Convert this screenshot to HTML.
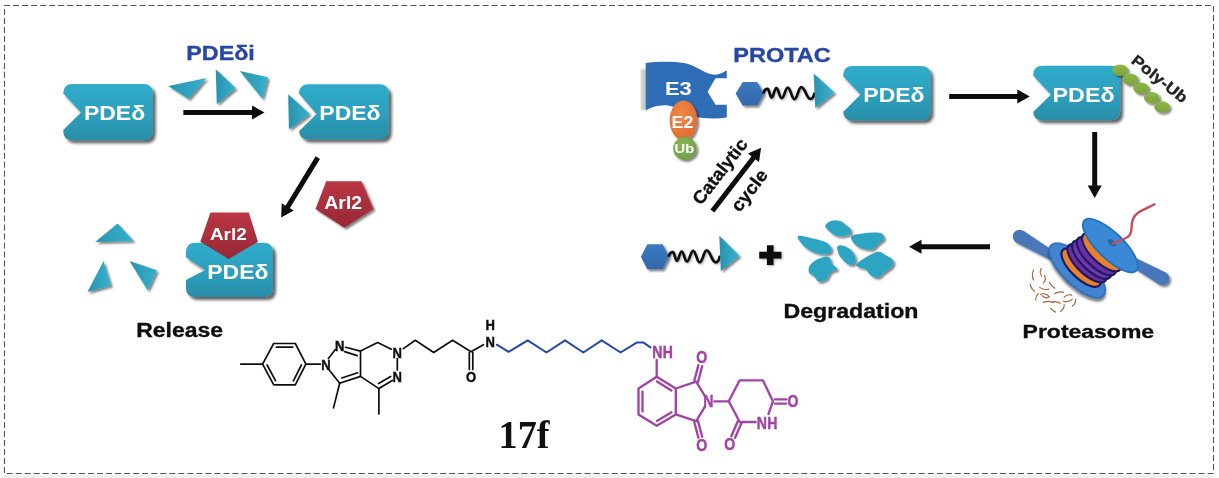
<!DOCTYPE html>
<html><head><meta charset="utf-8"><title>PDEδ PROTAC</title>
<style>html,body{margin:0;padding:0;background:#fff}body{width:1219px;height:478px;overflow:hidden;position:relative;font-family:"Liberation Sans",sans-serif}</style>
</head><body>
<svg width="1219" height="478" viewBox="0 0 1219 478" style="position:absolute;left:0;top:0">
<defs>
<linearGradient id="teal" x1="0" y1="0" x2="0" y2="1"><stop offset="0" stop-color="#30accb"/><stop offset="0.55" stop-color="#2d9fbd"/><stop offset="1" stop-color="#2a8da7"/></linearGradient>
<linearGradient id="tri" x1="0" y1="0" x2="1" y2="0"><stop offset="0" stop-color="#2a93ad"/><stop offset="1" stop-color="#36b2d0"/></linearGradient>
<linearGradient id="red" x1="0" y1="0" x2="0" y2="1"><stop offset="0" stop-color="#bb3644"/><stop offset="1" stop-color="#962835"/></linearGradient>
<linearGradient id="grn" x1="0" y1="0" x2="0" y2="1"><stop offset="0" stop-color="#8fb846"/><stop offset="1" stop-color="#7aa33a"/></linearGradient>
<radialGradient id="org" cx="0.4" cy="0.35" r="0.75"><stop offset="0" stop-color="#f08848"/><stop offset="1" stop-color="#dc6a30"/></radialGradient>
<radialGradient id="ubg" cx="0.4" cy="0.35" r="0.75"><stop offset="0" stop-color="#8bb75b"/><stop offset="1" stop-color="#6d9c40"/></radialGradient>
<linearGradient id="hex" x1="0" y1="0" x2="0" y2="1"><stop offset="0" stop-color="#3d78c0"/><stop offset="1" stop-color="#3468ab"/></linearGradient>
<filter id="sh" x="-20%" y="-20%" width="150%" height="150%"><feGaussianBlur in="SourceAlpha" stdDeviation="1.4"/><feOffset dx="3" dy="3"/><feComponentTransfer><feFuncA type="linear" slope="0.62"/></feComponentTransfer><feMerge><feMergeNode/><feMergeNode in="SourceGraphic"/></feMerge></filter>
<filter id="sh2" x="-20%" y="-20%" width="150%" height="150%"><feGaussianBlur in="SourceAlpha" stdDeviation="1.2"/><feOffset dx="1.6" dy="1.7"/><feComponentTransfer><feFuncA type="linear" slope="0.5"/></feComponentTransfer><feMerge><feMergeNode/><feMergeNode in="SourceGraphic"/></feMerge></filter>
<filter id="sh3" x="-10%" y="-40%" width="120%" height="200%"><feGaussianBlur in="SourceAlpha" stdDeviation="0.9"/><feOffset dx="1" dy="1.2"/><feComponentTransfer><feFuncA type="linear" slope="0.35"/></feComponentTransfer><feMerge><feMergeNode/><feMergeNode in="SourceGraphic"/></feMerge></filter>
<filter id="blur1"><feGaussianBlur stdDeviation="1.2"/></filter>
<filter id="soft"><feGaussianBlur stdDeviation="0.35"/></filter>
</defs>
<rect x="0" y="0" width="1219" height="478" fill="#fff"/>
<rect x="4" y="474.5" width="1209.5" height="3.5" fill="#f0f0f0"/>
<g stroke="#555" stroke-width="1.1" fill="none">
<line x1="4" y1="5.5" x2="1211.5" y2="5.5" stroke-dasharray="6 3.03"/>
<line x1="6.7" y1="473.5" x2="1214" y2="473.5" stroke-dasharray="6 3.03"/>
<line x1="4.5" y1="9" x2="4.5" y2="473" stroke-dasharray="6 2.98"/>
<line x1="1213.5" y1="6" x2="1213.5" y2="470" stroke-dasharray="6 2.98"/>
</g>
<g filter="url(#soft)">

<path d="M72.7,84.1 H143.3 Q152.8,84.1 152.8,93.6 V130.7 Q152.8,140.2 143.3,140.2 H72.7 Q63.2,140.2 63.2,130.7 V130 L81,112.4 L63.2,93.5 V93.6 Q63.2,84.1 72.7,84.1 Z" fill="url(#teal)" filter="url(#sh)"/>
<text x="83.9" y="120.4" font-family="Liberation Sans, sans-serif" font-size="20" font-weight="bold" fill="#fff" textLength="61.3" lengthAdjust="spacingAndGlyphs" >PDEδ</text>
<text x="186.3" y="59.5" font-family="Liberation Sans, sans-serif" font-size="20" font-weight="bold" fill="#2846a5" textLength="68.5" lengthAdjust="spacingAndGlyphs"  stroke="#2846a5" stroke-width="0.35">PDEδi</text>
<polygon points="168.4,86 206.5,78 188.7,99" fill="url(#tri)" filter="url(#sh2)"/>
<polygon points="215.7,69.2 235.7,88 216.8,104.2" fill="url(#tri)" filter="url(#sh2)"/>
<polygon points="239.9,71 268,77.2 262.4,99.1" fill="url(#tri)" filter="url(#sh2)"/>
<line x1="183.4" y1="112.5" x2="253.0" y2="112.5" stroke="#0a0a0a" stroke-width="5"/><polygon points="264.5,112.5 252.0,119.5 252.0,105.5" fill="#0a0a0a"/>
<path d="M308.5,84.2 H379.3 Q388.8,84.2 388.8,93.7 V129.9 Q388.8,139.4 379.3,139.4 H308.5 Q299,139.4 299,129.9 V131.3 L316.6,113.9 L299,93.6 V93.7 Q299,84.2 308.5,84.2 Z" fill="url(#teal)" filter="url(#sh)"/>
<polygon points="288.2,94.2 309.8,113.9 288.9,129.6" fill="url(#tri)" filter="url(#sh2)"/>
<text x="319.3" y="120.4" font-family="Liberation Sans, sans-serif" font-size="20" font-weight="bold" fill="#fff" textLength="61.3" lengthAdjust="spacingAndGlyphs" >PDEδ</text>
<line x1="317.8" y1="157.6" x2="287.2" y2="207.8" stroke="#0a0a0a" stroke-width="5"/><polygon points="281.2,217.6 281.7,203.3 293.7,210.6" fill="#0a0a0a"/>
<polygon points="326.2,181.2 361.6,181.2 373.5,208.9 344.4,227.8 315.5,208.9" fill="url(#red)" filter="url(#sh2)"/>
<text x="324.3" y="208.6" font-family="Liberation Sans, sans-serif" font-size="18" font-weight="bold" fill="#fff" textLength="37.8" lengthAdjust="spacingAndGlyphs" >Arl2</text>
<polygon points="95.1,241.9 117.6,223.5 133.6,240.9" fill="url(#tri)" filter="url(#sh2)"/>
<polygon points="103.5,261 87.4,292 110.9,285.4" fill="url(#tri)" filter="url(#sh2)"/>
<polygon points="129.6,261 157,270.3 147.7,290.4" fill="url(#tri)" filter="url(#sh2)"/>
<path d="M195.4,242.8 H263.5 Q273,242.8 273,252.3 V287.5 Q273,297 263.5,297 H195.4 Q185.9,297 185.9,287.5 V280 L205.3,269.9 L185.9,257.3 V252.3 Q185.9,242.8 195.4,242.8 Z" fill="url(#teal)" filter="url(#sh)"/>
<polygon points="210.4,212.5 248.8,212.5 258,241.7 228.6,259 200.3,241.7" fill="url(#red)" />
<text x="209.9" y="239.7" font-family="Liberation Sans, sans-serif" font-size="17" font-weight="bold" fill="#fff" textLength="36.8" lengthAdjust="spacingAndGlyphs" >Arl2</text>
<text x="207.3" y="279.4" font-family="Liberation Sans, sans-serif" font-size="20" font-weight="bold" fill="#fff" textLength="61.2" lengthAdjust="spacingAndGlyphs" >PDEδ</text>
<text x="136.2" y="336.6" font-family="Liberation Sans, sans-serif" font-size="19.5" font-weight="bold" fill="#111" textLength="86.8" lengthAdjust="spacingAndGlyphs"  stroke="#111" stroke-width="0.35">Release</text>
<rect x="641" y="69" width="7" height="41" fill="#888" opacity="0.45" filter="url(#blur1)"/>
<path d="M645.7,63 C655,61.6 672,61 684,63 C696,65 703,73.2 713,74.6 C719,75.3 723,72.3 726.8,70.6 V78.3 H715.5 L707.6,91.8 L715.5,104.8 H726.8 V117.4 C718,119 708,118.5 699,117.5 C688,116 680,107 668,105.5 C658,104.5 650,108 645.7,110.5 Z" fill="#2f6cb6"/>
<text x="665" y="94.8" font-family="Liberation Sans, sans-serif" font-size="19" font-weight="bold" fill="#fff" textLength="26.8" lengthAdjust="spacingAndGlyphs" >E3</text>
<ellipse cx="683.4" cy="120.2" rx="13.8" ry="19.8" fill="url(#org)" filter="url(#sh2)"/>
<text x="671.5" y="127.6" font-family="Liberation Sans, sans-serif" font-size="16.5" font-weight="bold" fill="#fff" textLength="21.9" lengthAdjust="spacingAndGlyphs" >E2</text>
<circle cx="684.8" cy="148.4" r="11.6" fill="url(#ubg)" filter="url(#sh2)"/>
<text x="674.6" y="153.2" font-family="Liberation Sans, sans-serif" font-size="13.5" font-weight="bold" fill="#fff" textLength="19.6" lengthAdjust="spacingAndGlyphs" >Ub</text>
<text x="733.3" y="62.3" font-family="Liberation Sans, sans-serif" font-size="19.5" font-weight="bold" fill="#2846a5" textLength="97.5" lengthAdjust="spacingAndGlyphs"  stroke="#2846a5" stroke-width="0.35">PROTAC</text>
<polygon points="735.6,93.5 742.7,81.9 757.2,81.9 763.8,93.5 757.2,105.4 742.7,105.4" fill="url(#hex)" filter="url(#sh2)"/>
<path d="M763.7,92.4 C764.2,89.9 766.0,88.8 767.7,88.8 C769.3,88.8 769.9,97.6 771.5,97.6 C773.5,97.6 774.3,88.2 776.3,88.2 C778.6,88.2 779.4,98.2 781.7,98.2 C784.3,98.2 785.2,87.6 787.8,87.6 C790.6,87.6 791.6,99.2 794.4,99.2 C797.3,99.2 798.4,87.1 801.3,87.1 C805.1,87.1 806.5,99.0 810.3,99.0 C812.0,99.0 813.7,96.6 814.3,93.6 " fill="none" stroke="#0c0c0c" stroke-width="2.7" stroke-linecap="round" stroke-linejoin="round" filter="url(#sh3)"/>
<polygon points="813.6,73.4 834.5,92.6 815.3,108" fill="url(#tri)" filter="url(#sh2)"/>
<path d="M852.6,66 H921.1 Q930.6,66 930.6,75.5 V110.9 Q930.6,120.4 921.1,120.4 H852.6 Q843.1,120.4 843.1,110.9 V112 L860.5,94.6 L843.1,76.3 V75.5 Q843.1,66 852.6,66 Z" fill="url(#teal)" filter="url(#sh)"/>
<text x="863.3" y="101.8" font-family="Liberation Sans, sans-serif" font-size="20" font-weight="bold" fill="#fff" textLength="61.3" lengthAdjust="spacingAndGlyphs" >PDEδ</text>
<line x1="949.2" y1="96.4" x2="1018.3" y2="96.4" stroke="#0a0a0a" stroke-width="5"/><polygon points="1029.8,96.4 1017.3,103.4 1017.3,89.4" fill="#0a0a0a"/>
<path d="M1042.6,65.7 H1110.7 Q1120.2,65.7 1120.2,75.2 V110.7 Q1120.2,120.2 1110.7,120.2 H1042.6 Q1033.1,120.2 1033.1,110.7 V112 L1051,94.6 L1033.1,75.5 V75.2 Q1033.1,65.7 1042.6,65.7 Z" fill="url(#teal)" filter="url(#sh)"/>
<text x="1052.6" y="101.7" font-family="Liberation Sans, sans-serif" font-size="20" font-weight="bold" fill="#fff" textLength="62" lengthAdjust="spacingAndGlyphs" >PDEδ</text>
<ellipse cx="1120" cy="70.1" rx="7.8" ry="5.7" fill="url(#grn)" filter="url(#sh2)"/>
<ellipse cx="1130.2" cy="79.2" rx="7.8" ry="5.7" fill="url(#grn)" filter="url(#sh2)"/>
<ellipse cx="1141" cy="88.2" rx="7.8" ry="5.7" fill="url(#grn)" filter="url(#sh2)"/>
<ellipse cx="1151.7" cy="97.7" rx="7.8" ry="5.7" fill="url(#grn)" filter="url(#sh2)"/>
<ellipse cx="1162" cy="107" rx="7.8" ry="5.7" fill="url(#grn)" filter="url(#sh2)"/>
<g transform="translate(1130.3,62.3) rotate(38.5)"><text x="0" y="0" font-family="Liberation Sans, sans-serif" font-size="15.5" font-weight="bold" fill="#222" textLength="66.5" lengthAdjust="spacingAndGlyphs"  stroke="#222" stroke-width="0.35">Poly-Ub</text></g>
<line x1="712.4" y1="211.1" x2="754.1" y2="156.9" stroke="#0a0a0a" stroke-width="5"/><polygon points="761.1,147.8 759.0,162.0 747.9,153.4" fill="#0a0a0a"/>
<g transform="translate(700.9,206.1) rotate(-52.4)"><text x="0" y="0" font-family="Liberation Sans, sans-serif" font-size="18" font-weight="bold" fill="#111" textLength="78" lengthAdjust="spacingAndGlyphs"  stroke="#111" stroke-width="0.35">Catalytic</text></g>
<g transform="translate(739.5,213.1) rotate(-52.4)"><text x="0" y="0" font-family="Liberation Sans, sans-serif" font-size="18" font-weight="bold" fill="#111" textLength="48" lengthAdjust="spacingAndGlyphs"  stroke="#111" stroke-width="0.35">cycle</text></g>
<line x1="1094.7" y1="132.0" x2="1094.7" y2="186.5" stroke="#0a0a0a" stroke-width="5"/><polygon points="1094.7,198.0 1087.7,185.5 1101.7,185.5" fill="#0a0a0a"/>
<line x1="990.0" y1="246.8" x2="920.5" y2="246.8" stroke="#0a0a0a" stroke-width="5"/><polygon points="909.0,246.8 921.5,239.8 921.5,253.8" fill="#0a0a0a"/>
<polygon points="640.9,256.8 647.3,244.3 662.7,244.3 669,256.8 662.7,269.2 647.3,269.2" fill="url(#hex)" filter="url(#sh2)"/>
<path d="M669.0,255.7 C669.5,253.2 671.3,252.1 673.0,252.1 C674.6,252.1 675.2,260.9 676.8,260.9 C678.8,260.9 679.6,251.5 681.6,251.5 C683.9,251.5 684.7,261.5 687.0,261.5 C689.6,261.5 690.5,250.9 693.1,250.9 C695.9,250.9 696.9,262.5 699.7,262.5 C702.6,262.5 703.7,250.4 706.6,250.4 C710.4,250.4 711.8,262.3 715.6,262.3 C717.3,262.3 719.0,259.9 719.6,256.9 " fill="none" stroke="#0c0c0c" stroke-width="2.7" stroke-linecap="round" stroke-linejoin="round" filter="url(#sh3)"/>
<polygon points="719.3,235.8 739.5,255.7 720.8,271.1" fill="url(#tri)" filter="url(#sh2)"/>
<path d="M759.2,251.8 H766.9 V245.2 H773.5 V251.8 H781.4 V258.4 H773.5 V265 H766.9 V258.4 H759.2 Z" fill="#0c0c0c" filter="url(#sh3)"/>
<path d="M825.2,226.0 C825.5,224.4 828.3,221.8 830.8,220.9 C833.3,220.1 837.7,220.2 840.2,220.9 C842.7,221.6 844.1,223.6 845.9,225.1 C847.7,226.6 850.6,228.2 851.1,229.8 C851.6,231.4 850.5,233.4 848.7,234.5 C846.9,235.6 842.7,236.3 840.2,236.3 C837.7,236.3 835.5,235.4 833.6,234.5 C831.7,233.6 830.3,232.1 828.9,230.7 C827.5,229.3 824.9,227.6 825.2,226.0 Z" fill="#2fa4c3" filter="url(#sh2)"/>
<path d="M851.1,236.3 C852.4,234.4 858.3,234.1 862.8,233.5 C867.3,232.9 874.4,232.3 877.9,232.6 C881.4,232.9 882.6,234.2 883.5,235.4 C884.4,236.7 884.0,238.7 883.1,240.1 C882.2,241.5 879.7,242.3 877.9,243.9 C876.1,245.5 874.7,248.7 872.2,249.5 C869.7,250.3 865.6,249.4 862.8,248.6 C860.0,247.8 857.2,246.9 855.3,244.8 C853.3,242.8 849.9,238.2 851.1,236.3 Z" fill="#2fa4c3" filter="url(#sh2)"/>
<path d="M797.9,236.0 C799.5,234.9 807.5,237.2 812.0,238.2 C816.5,239.2 822.0,240.4 825.2,242.0 C828.4,243.6 830.4,245.8 831.2,247.6 C832.0,249.4 831.5,251.8 829.9,252.9 C828.3,254.0 824.7,254.6 821.4,254.2 C818.1,253.8 813.2,252.1 810.1,250.5 C807.0,248.9 804.6,247.2 802.6,244.8 C800.6,242.4 796.3,237.1 797.9,236.0 Z" fill="#2fa4c3" filter="url(#sh2)"/>
<path d="M837.4,246.7 C838.1,245.5 839.9,244.9 842.1,245.4 C844.3,245.9 848.4,247.6 850.6,249.5 C852.8,251.4 854.7,254.7 855.3,257.0 C855.9,259.4 855.4,262.3 854.3,263.6 C853.2,264.9 850.9,265.5 848.7,264.6 C846.5,263.7 843.0,260.1 841.2,258.0 C839.4,255.9 838.6,254.2 838.0,252.3 C837.4,250.4 836.7,247.8 837.4,246.7 Z" fill="#2fa4c3" filter="url(#sh2)"/>
<path d="M809.2,266.5 C810.1,264.5 812.3,262.4 814.8,260.8 C817.3,259.2 821.7,257.5 824.2,257.0 C826.7,256.5 828.6,256.9 829.9,258.0 C831.1,259.1 830.5,261.7 831.7,263.6 C833.0,265.5 837.5,267.9 837.4,269.3 C837.2,270.7 832.7,270.4 830.8,272.1 C828.9,273.8 828.1,278.0 826.1,279.6 C824.1,281.2 820.6,282.1 818.6,281.5 C816.6,280.9 815.5,277.3 813.9,275.9 C812.3,274.5 810.0,274.6 809.2,273.0 C808.4,271.4 808.3,268.5 809.2,266.5 Z" fill="#2fa4c3" filter="url(#sh2)"/>
<path d="M856.2,264.6 C857.9,261.8 871.1,253.9 876.0,252.3 C880.9,250.7 882.6,253.9 885.4,255.2 C888.2,256.5 891.8,258.0 892.9,259.9 C894.0,261.8 893.6,264.3 892.0,266.5 C890.4,268.7 885.9,271.1 883.5,273.0 C881.1,274.9 880.1,277.4 877.9,277.7 C875.7,278.0 872.3,276.3 870.3,274.9 C868.2,273.5 868.0,271.0 865.6,269.3 C863.2,267.6 854.5,267.4 856.2,264.6 Z" fill="#2fa4c3" filter="url(#sh2)"/>
<text x="783.5" y="317.5" font-family="Liberation Sans, sans-serif" font-size="20" font-weight="bold" fill="#111" textLength="135" lengthAdjust="spacingAndGlyphs"  stroke="#111" stroke-width="0.35">Degradation</text>
<text x="1022.6" y="337.5" font-family="Liberation Sans, sans-serif" font-size="19" font-weight="bold" fill="#111" textLength="131.5" lengthAdjust="spacingAndGlyphs"  stroke="#111" stroke-width="0.35">Proteasome</text>
<g filter="url(#sh2)">
<polygon points="1016.1,242.4 1049.6,259.6 1054.4,251.4 1022.9,230.6" fill="#4878ba"/><circle cx="1019.5" cy="236.5" r="6.8" fill="#4878ba"/>
<polygon points="1165.8,272.6 1136.3,258.3 1131.7,266.7 1159.2,284.4" fill="#4878ba"/><circle cx="1162.5" cy="278.5" r="6.8" fill="#4878ba"/>
</g>
<ellipse cx="1077.2" cy="270.6" rx="36.5" ry="14.5" fill="#4284d0" stroke="#2f69ad" stroke-width="1.6" transform="rotate(44 1077.2 270.6)" filter="url(#sh2)"/>
<ellipse cx="1081.2" cy="267.6" rx="25.5" ry="10.5" fill="#e9802c" stroke="#1c1b5e" stroke-width="2.2" transform="rotate(44 1081.2 267.6)" />
<ellipse cx="1087.2" cy="263.1" rx="25.5" ry="10.5" fill="#6c2fa6" stroke="#1c1b5e" stroke-width="2.2" transform="rotate(44 1087.2 263.1)" />
<ellipse cx="1091.8" cy="259.6" rx="25.5" ry="10.5" fill="#7436b0" stroke="#1c1b5e" stroke-width="2.2" transform="rotate(44 1091.8 259.6)" />
<ellipse cx="1096.5" cy="256.1" rx="25.5" ry="10.5" fill="#6c2fa6" stroke="#1c1b5e" stroke-width="2.2" transform="rotate(44 1096.5 256.1)" />
<ellipse cx="1101.8" cy="252.1" rx="25.5" ry="10.5" fill="#e9802c" stroke="#1c1b5e" stroke-width="2.2" transform="rotate(44 1101.8 252.1)" />
<ellipse cx="1110.4" cy="245.6" rx="36.2" ry="13" fill="#3b88d4" stroke="#1e73c2" stroke-width="1.8" transform="rotate(44 1110.4 245.6)" />
<ellipse cx="1111.9" cy="242.8" rx="4.6" ry="2.6" fill="#2d629e" transform="rotate(44 1111.9 242.8)" />
<path d="M1112.5,243.5 C1120,240.5 1126,239 1129,236 C1133,231.5 1130.5,225 1133,219 C1136,211.5 1146,209 1154.5,204.3" fill="none" stroke="#c4505c" stroke-width="2.4" stroke-linecap="round"/>
<path d="M1033.6,270.0 Q1031.1,275.0 1033.6,280.1" fill="none" stroke="#a9603c" stroke-width="1.15" stroke-linecap="round"/>
<path d="M1041.1,268.6 Q1039.0,272.4 1041.7,276.1" fill="none" stroke="#a9603c" stroke-width="1.15" stroke-linecap="round"/>
<path d="M1044.5,275.4 Q1046.6,279.5 1043.4,282.9" fill="none" stroke="#a9603c" stroke-width="1.15" stroke-linecap="round"/>
<path d="M1049.2,282.2 Q1051.5,286.0 1054.7,288.3" fill="none" stroke="#a9603c" stroke-width="1.15" stroke-linecap="round"/>
<path d="M1030.2,284.2 Q1030.9,288.7 1034.7,291.4" fill="none" stroke="#a9603c" stroke-width="1.15" stroke-linecap="round"/>
<path d="M1039.7,287.4 Q1044.2,290.6 1049.2,289.0" fill="none" stroke="#a9603c" stroke-width="1.15" stroke-linecap="round"/>
<path d="M1038.3,293.3 Q1035.5,296.5 1035.6,299.9" fill="none" stroke="#a9603c" stroke-width="1.15" stroke-linecap="round"/>
<path d="M1040.4,294.4 Q1045.8,292.4 1049.2,296.5" fill="none" stroke="#a9603c" stroke-width="1.15" stroke-linecap="round"/>
<path d="M1049.2,296.5 Q1045.8,299.6 1042.4,295.8" fill="none" stroke="#a9603c" stroke-width="1.15" stroke-linecap="round"/>
<path d="M1054.7,293.7 Q1058.7,290.9 1063.5,292.4" fill="none" stroke="#a9603c" stroke-width="1.15" stroke-linecap="round"/>
<path d="M1064.2,297.1 Q1067.6,293.9 1071.7,295.1" fill="none" stroke="#a9603c" stroke-width="1.15" stroke-linecap="round"/>
<path d="M1063.5,301.2 Q1068.7,302.8 1072.3,299.2" fill="none" stroke="#a9603c" stroke-width="1.15" stroke-linecap="round"/>
<path d="M1075.7,299.2 Q1075.7,303.7 1072.3,306.0" fill="none" stroke="#a9603c" stroke-width="1.15" stroke-linecap="round"/>
<path d="M1043.1,302.6 Q1047.9,300.1 1053.3,302.8" fill="none" stroke="#a9603c" stroke-width="1.15" stroke-linecap="round"/>
<path d="M1052.6,301.9 Q1056.7,300.9 1060.1,303.3" fill="none" stroke="#a9603c" stroke-width="1.15" stroke-linecap="round"/>
<path d="M1064.2,304.6 Q1064.3,309.1 1060.5,311.4" fill="none" stroke="#a9603c" stroke-width="1.15" stroke-linecap="round"/>
<path d="M1050.6,308.0 Q1052.4,311.0 1055.6,312.1" fill="none" stroke="#a9603c" stroke-width="1.15" stroke-linecap="round"/>
<line x1="240.8" y1="364.2" x2="262.6" y2="364.2" stroke="#111" stroke-width="1.7" stroke-linecap="round"/>
<polyline points="262.6,364.2 273.7,343.5 295.3,343.5 305.9,364.2 295.3,384.9 273.7,384.9 262.6,364.2" fill="none" stroke="#111" stroke-width="1.7" stroke-linejoin="round" stroke-linecap="round"/>
<line x1="276.3" y1="347.1" x2="292.7" y2="347.1" stroke="#111" stroke-width="1.7" stroke-linecap="round"/>
<line x1="301.4" y1="365.0" x2="293.4" y2="380.8" stroke="#111" stroke-width="1.7" stroke-linecap="round"/>
<line x1="275.5" y1="380.7" x2="267.1" y2="365.0" stroke="#111" stroke-width="1.7" stroke-linecap="round"/>
<line x1="305.9" y1="364.2" x2="320.3" y2="364.2" stroke="#111" stroke-width="1.7" stroke-linecap="round"/>
<text transform="translate(325.9,369.7) scale(0.93,1.1)" text-anchor="middle" font-family="Liberation Sans, sans-serif" font-size="14.0" font-weight="bold" fill="#111" stroke="#111" stroke-width="0.45">N</text>
<line x1="328.4" y1="358.6" x2="335.3" y2="349.6" stroke="#111" stroke-width="1.7" stroke-linecap="round"/>
<text transform="translate(339.7,351.3) scale(0.93,1.1)" text-anchor="middle" font-family="Liberation Sans, sans-serif" font-size="14.0" font-weight="bold" fill="#111" stroke="#111" stroke-width="0.45">N</text>
<line x1="345.5" y1="347.3" x2="360.5" y2="351.1" stroke="#111" stroke-width="1.7" stroke-linecap="round"/>
<line x1="344.6" y1="351.6" x2="357.2" y2="355.6" stroke="#111" stroke-width="1.7" stroke-linecap="round"/>
<line x1="360.5" y1="351.1" x2="360.5" y2="376.4" stroke="#111" stroke-width="1.7" stroke-linecap="round"/>
<line x1="360.5" y1="376.4" x2="339.7" y2="383.3" stroke="#111" stroke-width="1.7" stroke-linecap="round"/>
<line x1="357.6" y1="372.8" x2="341.8" y2="378.0" stroke="#111" stroke-width="1.7" stroke-linecap="round"/>
<line x1="339.7" y1="383.3" x2="329.2" y2="370.0" stroke="#111" stroke-width="1.7" stroke-linecap="round"/>
<line x1="339.7" y1="383.3" x2="333.5" y2="407.9" stroke="#111" stroke-width="1.7" stroke-linecap="round"/>
<polyline points="360.5,351.1 377.7,342.6 391.3,349.2" fill="none" stroke="#111" stroke-width="1.7" stroke-linejoin="round" stroke-linecap="round"/>
<text transform="translate(397.3,357.7) scale(0.93,1.1)" text-anchor="middle" font-family="Liberation Sans, sans-serif" font-size="14.0" font-weight="bold" fill="#111" stroke="#111" stroke-width="0.45">N</text>
<line x1="397.3" y1="358.6" x2="397.3" y2="370.0" stroke="#111" stroke-width="1.7" stroke-linecap="round"/>
<text transform="translate(397.3,381.9) scale(0.93,1.1)" text-anchor="middle" font-family="Liberation Sans, sans-serif" font-size="14.0" font-weight="bold" fill="#111" stroke="#111" stroke-width="0.45">N</text>
<line x1="392.3" y1="380.5" x2="378.9" y2="388.6" stroke="#111" stroke-width="1.7" stroke-linecap="round"/>
<line x1="390.6" y1="376.4" x2="378.6" y2="383.6" stroke="#111" stroke-width="1.7" stroke-linecap="round"/>
<line x1="378.9" y1="388.6" x2="360.5" y2="376.4" stroke="#111" stroke-width="1.7" stroke-linecap="round"/>
<line x1="378.9" y1="388.6" x2="378.9" y2="413.9" stroke="#111" stroke-width="1.7" stroke-linecap="round"/>
<polyline points="403.3,348.6 415.3,340.3 433.7,352.5 452.6,340.3 471.0,351.8 483.4,344.7" fill="none" stroke="#111" stroke-width="1.7" stroke-linejoin="round" stroke-linecap="round"/>
<line x1="469.3" y1="352.5" x2="469.3" y2="369.5" stroke="#111" stroke-width="1.7" stroke-linecap="round"/>
<line x1="472.8" y1="352.5" x2="472.8" y2="369.5" stroke="#111" stroke-width="1.7" stroke-linecap="round"/>
<text transform="translate(471,382.2) scale(0.93,1.1)" text-anchor="middle" font-family="Liberation Sans, sans-serif" font-size="14.0" font-weight="bold" fill="#111" stroke="#111" stroke-width="0.45">O</text>
<text transform="translate(490.1,346.5) scale(0.93,1.1)" text-anchor="middle" font-family="Liberation Sans, sans-serif" font-size="14.0" font-weight="bold" fill="#111" stroke="#111" stroke-width="0.45">N</text>
<text transform="translate(490.1,329.9) scale(0.93,1.1)" text-anchor="middle" font-family="Liberation Sans, sans-serif" font-size="14.0" font-weight="bold" fill="#111" stroke="#111" stroke-width="0.45">H</text>
<polyline points="496.8,344.7 508.6,351.8 527.7,340.3 546.5,352.5 565.0,340.3 583.3,352.5 601.7,340.3 620.6,352.5 636.7,342.6 643.6,342.6 650.5,347.4" fill="none" stroke="#2847a8" stroke-width="2.0" stroke-linejoin="round" stroke-linecap="round"/>
<text transform="translate(657.3,358.2) scale(0.93,1.1)" text-anchor="middle" font-family="Liberation Sans, sans-serif" font-size="15.1" font-weight="bold" fill="#a044a6" stroke="#a044a6" stroke-width="0.45">N</text>
<text transform="translate(667.9,358.2) scale(0.93,1.1)" text-anchor="middle" font-family="Liberation Sans, sans-serif" font-size="15.1" font-weight="bold" fill="#a044a6" stroke="#a044a6" stroke-width="0.45">H</text>
<line x1="656.7" y1="360.0" x2="656.7" y2="376.8" stroke="#a044a6" stroke-width="2.35" stroke-linecap="round"/>
<polyline points="656.7,376.8 675.8,388.5 675.8,414.4 656.7,425.8 638.5,414.4 638.5,388.5 656.7,376.8" fill="none" stroke="#a044a6" stroke-width="2.35" stroke-linejoin="round" stroke-linecap="round"/>
<line x1="656.9" y1="381.6" x2="671.4" y2="390.5" stroke="#a044a6" stroke-width="2.35" stroke-linecap="round"/>
<line x1="671.5" y1="412.3" x2="656.9" y2="421.0" stroke="#a044a6" stroke-width="2.35" stroke-linecap="round"/>
<line x1="642.5" y1="411.3" x2="642.5" y2="391.6" stroke="#a044a6" stroke-width="2.35" stroke-linecap="round"/>
<polyline points="675.8,388.5 696.2,381.7 704.8,396.0" fill="none" stroke="#a044a6" stroke-width="2.35" stroke-linejoin="round" stroke-linecap="round"/>
<polyline points="675.8,414.4 696.2,421.2 704.8,406.8" fill="none" stroke="#a044a6" stroke-width="2.35" stroke-linejoin="round" stroke-linecap="round"/>
<text transform="translate(708.3,407.2) scale(0.93,1.1)" text-anchor="middle" font-family="Liberation Sans, sans-serif" font-size="15.1" font-weight="bold" fill="#a044a6" stroke="#a044a6" stroke-width="0.45">N</text>
<line x1="694.3" y1="380.7" x2="698.4" y2="365.1" stroke="#a044a6" stroke-width="2.35" stroke-linecap="round"/>
<line x1="694.3" y1="422.2" x2="698.4" y2="437.7" stroke="#a044a6" stroke-width="2.35" stroke-linecap="round"/>
<line x1="698.1" y1="381.7" x2="702.2" y2="366.1" stroke="#a044a6" stroke-width="2.35" stroke-linecap="round"/>
<line x1="698.1" y1="421.2" x2="702.2" y2="436.7" stroke="#a044a6" stroke-width="2.35" stroke-linecap="round"/>
<text transform="translate(701.8,363.1) scale(0.93,1.1)" text-anchor="middle" font-family="Liberation Sans, sans-serif" font-size="15.1" font-weight="bold" fill="#a044a6" stroke="#a044a6" stroke-width="0.45">O</text>
<text transform="translate(701.8,450.5) scale(0.93,1.1)" text-anchor="middle" font-family="Liberation Sans, sans-serif" font-size="15.1" font-weight="bold" fill="#a044a6" stroke="#a044a6" stroke-width="0.45">O</text>
<line x1="714.4" y1="401.3" x2="728.8" y2="401.3" stroke="#a044a6" stroke-width="2.35" stroke-linecap="round"/>
<polyline points="728.8,401.3 739.7,380.3 762.9,380.3 772.9,401.3 768.5,414.0" fill="none" stroke="#a044a6" stroke-width="2.35" stroke-linejoin="round" stroke-linecap="round"/>
<polyline points="728.8,401.3 739.7,422.0 755.6,422.0" fill="none" stroke="#a044a6" stroke-width="2.35" stroke-linejoin="round" stroke-linecap="round"/>
<line x1="775.0" y1="399.3" x2="786.3" y2="399.3" stroke="#a044a6" stroke-width="2.35" stroke-linecap="round"/>
<line x1="775.0" y1="403.6" x2="786.3" y2="403.6" stroke="#a044a6" stroke-width="2.35" stroke-linecap="round"/>
<text transform="translate(793,407.4) scale(0.93,1.1)" text-anchor="middle" font-family="Liberation Sans, sans-serif" font-size="15.1" font-weight="bold" fill="#a044a6" stroke="#a044a6" stroke-width="0.45">O</text>
<line x1="737.8" y1="421.2" x2="731.3" y2="436.2" stroke="#a044a6" stroke-width="2.35" stroke-linecap="round"/>
<line x1="741.6" y1="422.8" x2="735.1" y2="437.8" stroke="#a044a6" stroke-width="2.35" stroke-linecap="round"/>
<text transform="translate(729.6,449.9) scale(0.93,1.1)" text-anchor="middle" font-family="Liberation Sans, sans-serif" font-size="15.1" font-weight="bold" fill="#a044a6" stroke="#a044a6" stroke-width="0.45">O</text>
<text transform="translate(761.7,428.5) scale(0.93,1.1)" text-anchor="middle" font-family="Liberation Sans, sans-serif" font-size="15.1" font-weight="bold" fill="#a044a6" stroke="#a044a6" stroke-width="0.45">N</text>
<text transform="translate(772.4,428.5) scale(0.93,1.1)" text-anchor="middle" font-family="Liberation Sans, sans-serif" font-size="15.1" font-weight="bold" fill="#a044a6" stroke="#a044a6" stroke-width="0.45">H</text>
</g>
<text x="498.6" y="448" font-family="Liberation Serif, serif" font-size="39" font-weight="bold" fill="#111" textLength="51" lengthAdjust="spacingAndGlyphs">17f</text>
</svg>
</body></html>
